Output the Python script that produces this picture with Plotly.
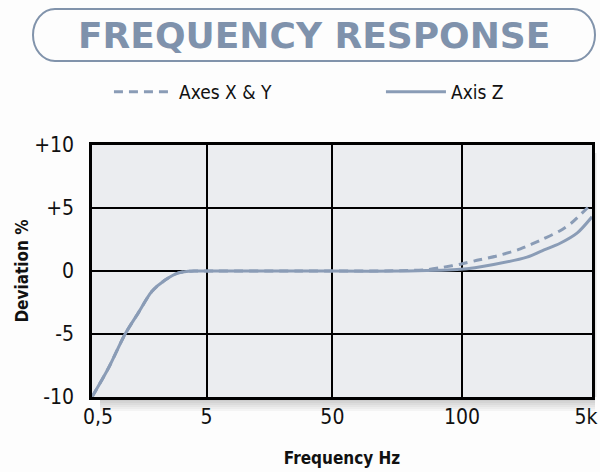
import plotly.graph_objects as go

# ---- data (x in grid-position units: 0=0,5 Hz, ... 4=5 kHz) ----
tick_labels = ["0,5", "5", "50", "100", "5k"]
tick_pos = [0, 0.916, 1.923, 2.96, 4.0]

z_x = [0.0, 0.132, 0.265, 0.372, 0.478, 0.585, 0.692, 0.825, 0.916, 1.667, 2.467, 2.947, 3.213, 3.48, 3.60, 3.745, 3.88, 4.0]
z_y = [-10, -7.7, -5.0, -3.3, -1.63, -0.72, -0.15, 0.0, 0.0, 0.0, 0.0, 0.13, 0.52, 1.1, 1.6, 2.2, 3.0, 4.3]

xy_x = [0.0, 0.132, 0.265, 0.372, 0.478, 0.585, 0.692, 0.825, 0.916, 1.667, 2.467, 2.69, 2.81, 2.947, 3.08, 3.24, 3.427, 3.61, 3.745, 3.84, 3.92, 4.0]
xy_y = [-10, -7.7, -5.0, -3.3, -1.63, -0.72, -0.15, 0.0, 0.0, 0.0, 0.02, 0.12, 0.3, 0.54, 0.85, 1.2, 1.75, 2.55, 3.2, 3.85, 4.6, 5.35]

y_ticks = [-10, -5, 0, 5, 10]
y_tick_labels = ["-10", "-5", "0", "+5", "+10"]

W, H = 600, 472
L, R, T, B = 92, 8, 145, 75
PW, PH = W - L - R, H - T - B

def px(x):
    return (x - L) / PW

def py(y):
    return (H - B - y) / PH

LINE = "#8a9cb6"
NARROW = "DejaVu Sans Condensed, Liberation Sans Narrow, sans-serif"

# end labels nudged inward (as in the original artwork) with non-breaking spaces
NB = "\u00a0"
x_ticktext = list(tick_labels)
x_ticktext[0] = NB * 2 + x_ticktext[0]
x_ticktext[-1] = x_ticktext[-1] + NB * 2

fig = go.Figure()
fig.add_trace(go.Scatter(x=xy_x, y=xy_y, name="Axes X &amp; Y", mode="lines",
                         line=dict(color=LINE, width=3, dash="9px,6px", shape="spline", smoothing=0.8)))
fig.add_trace(go.Scatter(x=z_x, y=z_y, name="Axis Z", mode="lines",
                         line=dict(color=LINE, width=3, shape="spline", smoothing=0.8)))

shapes = []
# drop shadow below and right of plot
for i in range(7):
    g = 196 + i * 8
    col = f"rgb({g},{g},{g})"
    shapes.append(dict(type="rect", xref="paper", yref="paper", layer="below",
                       x0=px(L + 8), x1=px(W - R + 3), y0=py(H - B + 2 + 2 * i), y1=py(H - B + 2 * i),
                       line=dict(width=0), fillcolor=col))
for i in range(4):
    g = 200 + i * 14
    col = f"rgb({g},{g},{g})"
    shapes.append(dict(type="rect", xref="paper", yref="paper", layer="below",
                       x0=px(W - R + 1 + i), x1=px(W - R + 2 + i), y0=py(H - B), y1=py(T + 8),
                       line=dict(width=0), fillcolor=col))

# rounded title box
bx0, bx1, by0, by1 = 33, 595, 9, 61
rx, ry = 22, 26
kx, ky = rx * 0.5523, ry * 0.5523
ym = (by0 + by1) / 2
def P(x, y):
    return f"{px(x):.5f},{py(y):.5f}"
path = (f"M{P(bx0 + rx, by0)} L{P(bx1 - rx, by0)} "
        f"C{P(bx1 - rx + kx, by0)} {P(bx1, ym - ky)} {P(bx1, ym)} "
        f"C{P(bx1, ym + ky)} {P(bx1 - rx + kx, by1)} {P(bx1 - rx, by1)} "
        f"L{P(bx0 + rx, by1)} "
        f"C{P(bx0 + rx - kx, by1)} {P(bx0, ym + ky)} {P(bx0, ym)} "
        f"C{P(bx0, ym - ky)} {P(bx0 + rx - kx, by0)} {P(bx0 + rx, by0)} Z")
shapes.append(dict(type="path", xref="paper", yref="paper", path=path,
                   line=dict(color="#8193ab", width=2), fillcolor="rgba(0,0,0,0)"))

fig.update_layout(
    width=W, height=H,
    margin=dict(l=L, r=R, t=T, b=B, autoexpand=False),
    paper_bgcolor="#fdfdfd",
    plot_bgcolor="#ebedf0",
    shapes=shapes,
    showlegend=True,
    legend=dict(orientation="h", x=-0.0001, y=py(92), xanchor="left", yanchor="middle",
                indentation=17,
                font=dict(family=NARROW, size=19, color="#111111"),
                bgcolor="rgba(0,0,0,0)", entrywidth=180, itemwidth=60),
    annotations=[dict(text="<b>FREQUENCY RESPONSE</b>", xref="paper", yref="paper",
                      x=px(314), y=py(35), showarrow=False, xanchor="center", yanchor="middle",
                      font=dict(family="DejaVu Sans", size=36, color="#7f92ac"))],
    xaxis=dict(range=[0, 4], tickvals=tick_pos, ticktext=x_ticktext, tickangle=0,
               showgrid=True, gridcolor="black", gridwidth=2, automargin=False,
               showline=True, linecolor="black", linewidth=2.5, mirror=True, zeroline=False,
               ticks="", ticklabelstandoff=-1, ticklabeloverflow="allow",
               tickfont=dict(family=NARROW, size=21, color="#111111"),
               title=dict(text="<b>Frequency Hz</b>", standoff=25,
                          font=dict(family=NARROW, size=17, color="#111111"))),
    yaxis=dict(range=[-10, 10], tickvals=y_ticks, ticktext=y_tick_labels,
               showgrid=True, gridcolor="black", gridwidth=2, automargin=False,
               showline=True, linecolor="black", linewidth=2.5, mirror=True, zeroline=False,
               ticks="", ticklabelstandoff=11,
               tickfont=dict(family=NARROW, size=21, color="#111111"),
               title=dict(text="<b>Deviation %</b>", standoff=2,
                          font=dict(family=NARROW, size=17, color="#111111"))),
)

fig.write_html("out.html", config={"displayModeBar": False},
               post_script="document.body.style.margin='0';")
